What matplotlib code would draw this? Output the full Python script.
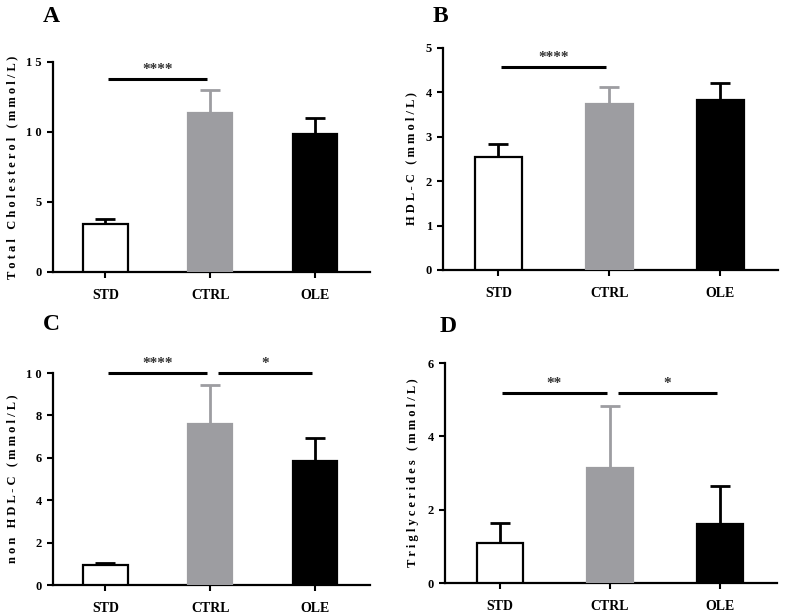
import matplotlib
matplotlib.use('Agg')
import matplotlib.pyplot as plt

plt.rcParams['font.family'] = ['Liberation Serif', 'DejaVu Serif']
plt.rcParams['font.weight'] = 'bold'

groups = ['STD', 'CTRL', 'OLE']
colors = ['white', '#9d9da1', 'black']
edge_colors = ['black', '#9d9da1', 'black']

tc_mean = [3.45, 11.35, 9.85]
tc_sd = [0.35, 1.65, 1.15]
hdl_mean = [2.54, 3.74, 3.83]
hdl_sd = [0.30, 0.38, 0.38]
nonhdl_mean = [0.95, 7.6, 5.85]
nonhdl_sd = [0.1, 1.83, 1.08]
tg_mean = [1.09, 3.13, 1.6]
tg_sd = [0.54, 1.69, 1.04]

# (label, ylabel, mean, sd, ymax, ticks, significance bars)
panels = [
    ('A', 'Total Cholesterol (mmol/L)', tc_mean, tc_sd, 15, [0, 5, 10, 15],
     [(0, 1, 13.8, '****')]),
    ('B', 'HDL-C (mmol/L)', hdl_mean, hdl_sd, 5, [0, 1, 2, 3, 4, 5],
     [(0, 1, 4.57, '****')]),
    ('C', 'non HDL-C (mmol/L)', nonhdl_mean, nonhdl_sd, 10, [0, 2, 4, 6, 8, 10],
     [(0, 1, 10.0, '****'), (1, 2, 10.0, '*')]),
    ('D', 'Triglycerides (mmol/L)', tg_mean, tg_sd, 6, [0, 2, 4, 6],
     [(0, 1, 5.18, '**'), (1, 2, 5.18, '*')]),
]

# axes rectangles in pixels: left, top, right, bottom
rects = [(53, 62, 370, 272), (443, 48, 778, 270), (53, 373, 370, 585), (445, 363, 777, 583)]
letter_pos = [(43, 16), (433, 16), (43, 324), (440, 326)]

W, H = 786, 616
fig = plt.figure(figsize=(W / 100, H / 100), dpi=100)


def spaced(s):
    return ' '.join(s)


for (letter, ylab, mean, sd, ymax, ticks, sig), (l, t, r, b), (lx, ly) in zip(panels, rects, letter_pos):
    ax = fig.add_axes([l / W, 1 - b / H, (r - l) / W, (b - t) / H])
    x = range(len(groups))
    ax.bar(x, mean, width=0.42, color=colors, edgecolor=edge_colors, linewidth=1.6, zorder=3)
    for i in x:
        ax.errorbar(i, mean[i], yerr=[[0], [sd[i]]], fmt='none', ecolor=edge_colors[i],
                    elinewidth=2, capsize=7, capthick=2, zorder=2)
    ax.set_xlim(-0.5, 2.52)
    ax.set_ylim(0, ymax)
    ax.set_yticks(ticks)
    ax.set_yticklabels([spaced(str(v)) for v in ticks], fontsize=9, fontweight='bold')
    ax.set_xticks(list(x))
    ax.set_xticklabels(groups, fontsize=10, fontweight='bold')
    ax.tick_params(axis='x', length=4, width=1.5, pad=8)
    ax.tick_params(axis='y', length=4, width=1.5, pad=4)
    for s in ['top', 'right']:
        ax.spines[s].set_visible(False)
    for s in ['left', 'bottom']:
        ax.spines[s].set_linewidth(1.6)
    ax.set_ylabel(spaced(ylab), fontsize=9, fontweight='bold', labelpad=6)

    for a, bb, y, txt in sig:
        x0 = a + 0.02 if a == 0 else a + 0.07
        x1 = bb - 0.03
        ax.plot([x0, x1], [y, y], color='black', lw=2.2, clip_on=False, solid_capstyle='butt')
        ax.annotate(txt, ((x0 + x1) / 2, y), xytext=(0, 2), textcoords='offset points',
                    ha='center', va='bottom', fontsize=11, color='#333333', annotation_clip=False)

    fig.text(lx / W, 1 - ly / H, letter, fontsize=17, fontweight='bold', ha='left', va='center')

fig.savefig('out.png', dpi=100)
